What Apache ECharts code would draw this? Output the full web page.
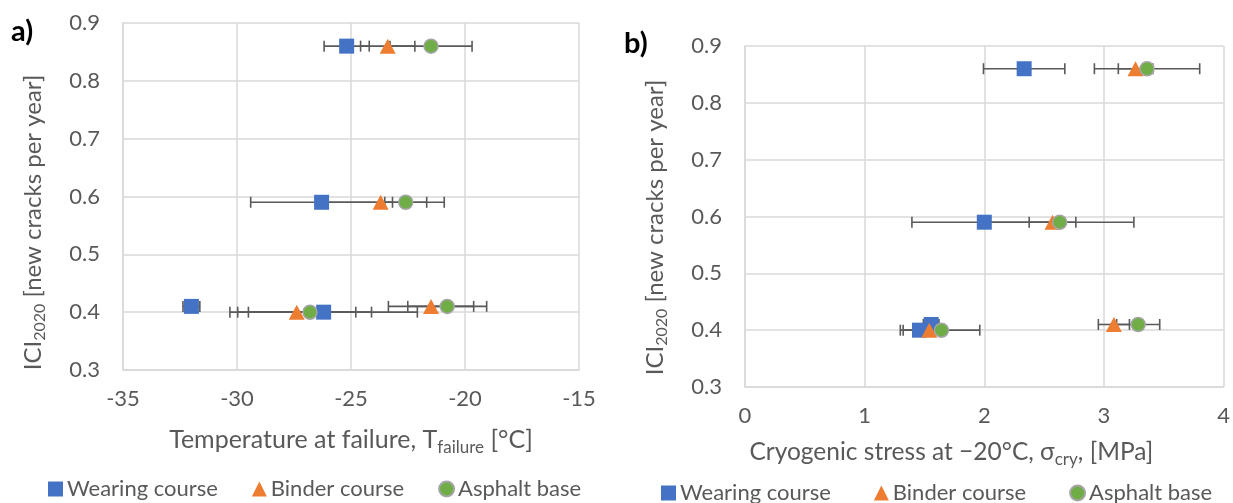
<!DOCTYPE html>
<html><head><meta charset="utf-8">
<script src="https://cdn.jsdelivr.net/npm/echarts@6/dist/echarts.min.js"></script>
<style>html,body{margin:0;padding:0;background:#fff}#c{width:1233px;height:503px}</style>
</head><body><div id="c"></div>
<script>
// ---- data ----
const seriesNames = ['Wearing course', 'Binder course', 'Asphalt base'];
const iciTicks = [0.3, 0.4, 0.5, 0.6, 0.7, 0.8, 0.9];
const tempTicks = [-35, -30, -25, -20, -15];
const stressTicks = [0, 1, 2, 3, 4];

// ICI2020 values of each point (same order for both panels)
const wearingIci = [0.86, 0.59, 0.41, 0.40];
const binderIci  = [0.86, 0.59, 0.41, 0.40];
const baseIci    = [0.86, 0.59, 0.41, 0.40];

// Panel a) temperature at failure [°C] and error (±)
const wearingTemp    = [-25.19, -26.29, -32.00, -26.20];
const wearingTempErr = [0.99, 3.11, 0.37, 4.11];
const binderTemp     = [-23.39, -23.70, -21.49, -27.38];
const binderTempErr  = [1.19, 2.79, 1.87, 2.59];
const baseTemp       = [-21.49, -22.60, -20.78, -26.80];
const baseTempErr    = [1.80, 0.92, 1.73, 2.70];

// Panel b) cryogenic stress at -20°C [MPa] and error (±)
const wearingStress    = [2.333, 2.00, 1.556, 1.458];
const wearingStressErr = [0.34, 0.605, 0.065, 0.16];
const binderStress     = [3.264, 2.57, 3.083, 1.54];
const binderStressErr  = [0.144, 0.195, 0.13, 0.08];
const baseStress       = [3.36, 2.63, 3.286, 1.642];
const baseStressErr    = [0.44, 0.62, 0.18, 0.32];

// ---- styling ----
const FONT = 'Lato';
const TXT = '#595959';
const GRID = '#d9d9d9';
const colors = ['#4472c4', '#ed7d31', '#70ad47'];
const symbols = ['rect', 'triangle', 'circle'];
const sizes = [15, [16, 15], 14];

function pts(xs, ys) { return xs.map((x, i) => [x, ys[i]]); }
function errPts(xs, ys, es) { return xs.map((x, i) => [x, ys[i], es[i]]); }

function errRender(params, api) {
  const x = api.value(0), y = api.value(1), e = api.value(2);
  const p1 = api.coord([x - e, y]), p2 = api.coord([x + e, y]);
  const h = 5.5;
  const style = { stroke: '#595959', lineWidth: 1.6 };
  return { type: 'group', children: [
    { type: 'line', shape: { x1: p1[0], y1: p1[1], x2: p2[0], y2: p2[1] }, style },
    { type: 'line', shape: { x1: p1[0], y1: p1[1] - h, x2: p1[0], y2: p1[1] + h }, style },
    { type: 'line', shape: { x1: p2[0], y1: p2[1] - h, x2: p2[0], y2: p2[1] + h }, style }
  ]};
}

function richStyle(fs, sub, lh, pad) {
  return {
    color: TXT, fontFamily: FONT, fontSize: fs, padding: pad,
    rich: {
      a: { color: TXT, fontFamily: FONT, fontSize: fs, lineHeight: lh },
      s: { color: TXT, fontFamily: FONT, fontSize: sub, lineHeight: lh, verticalAlign: 'bottom' }
    }
  };
}

function xAxis(idx, ticks, name, gap, fs, pad) {
  return {
    type: 'value', gridIndex: idx, min: ticks[0], max: ticks[ticks.length - 1],
    interval: ticks[1] - ticks[0],
    axisLine: { show: true, onZero: false, lineStyle: { color: GRID, width: 1.5 } },
    axisTick: { show: false },
    splitLine: { show: true, lineStyle: { color: GRID, width: 1.5 } },
    axisLabel: { color: TXT, fontFamily: FONT, fontSize: 22, margin: 18 },
    name: name, nameLocation: 'middle', nameGap: gap,
    nameTextStyle: richStyle(fs, 17, 32, pad)
  };
}
function yAxis(idx, pad) {
  return {
    type: 'value', gridIndex: idx, min: iciTicks[0], max: iciTicks[iciTicks.length - 1],
    interval: 0.1,
    axisLine: { show: true, onZero: false, lineStyle: { color: GRID, width: 1.5 } },
    axisTick: { show: false },
    splitLine: { show: true, lineStyle: { color: GRID, width: 1.5 } },
    axisLabel: { color: TXT, fontFamily: FONT, fontSize: 22, margin: 23, formatter: v => v.toFixed(1) },
    name: '{a|ICI}{s|2020}{a| [new cracks per year]}', nameLocation: 'middle', nameGap: 75,
    nameTextStyle: richStyle(24, 16, 30, pad)
  };
}

const panels = [
  { x: [wearingTemp, binderTemp, baseTemp], e: [wearingTempErr, binderTempErr, baseTempErr] },
  { x: [wearingStress, binderStress, baseStress], e: [wearingStressErr, binderStressErr, baseStressErr] }
];
const icis = [wearingIci, binderIci, baseIci];

const series = [];
panels.forEach((p, gi) => {
  for (let k = 0; k < 3; k++) {
    series.push({
      type: 'custom', xAxisIndex: gi, yAxisIndex: gi, z: 1,
      renderItem: errRender, encode: { x: 0, y: 1 },
      data: errPts(p.x[k], icis[k], p.e[k]), silent: true
    });
  }
});
panels.forEach((p, gi) => {
  for (let k = 0; k < 3; k++) {
    series.push({
      type: 'scatter', name: seriesNames[k], xAxisIndex: gi, yAxisIndex: gi, z: 3 + k,
      symbol: symbols[k], symbolSize: sizes[k],
      itemStyle: k === 2 ? { color: colors[k], borderColor: '#a5a5a5', borderWidth: 1.5, opacity: 1 }
                         : { color: colors[k], opacity: 1 },
      data: pts(p.x[k], icis[k])
    });
  }
});

function legend(left, top, fs, gap) {
  return {
    left: left, top: top, itemWidth: 15, itemHeight: 15, itemGap: gap,
    textStyle: { color: TXT, fontFamily: FONT, fontSize: fs, padding: [0, 0, 0, -1] },
    data: seriesNames.map(n => ({ name: n }))
  };
}

const option = {
  animation: false,
  backgroundColor: '#fff',
  grid: [
    { left: 123, top: 23, width: 456, height: 347 },
    { left: 745, top: 46, width: 480, height: 341 }
  ],
  xAxis: [
    xAxis(0, tempTicks, '{a|Temperature at failure, T}{s|failure}{a| [°C]}', 54, 25, [0, 0, 0, 0]),
    xAxis(1, stressTicks, '{a|Cryogenic stress at −20°C, σ}{s|cry}{a|, [MPa]}', 49, 24.5, [0, 66, 0, 0])
  ],
  yAxis: [yAxis(0, [0, 52, 0, 0]), yAxis(1, [0, 22, 0, 0])],
  legend: [legend(43, 473, 22, 34), legend(656, 477, 22, 43)],
  graphic: [
    { type: 'text', left: 11, top: 17, style: { text: 'a)', font: 'bold 29px ' + FONT, fill: '#000' } },
    { type: 'text', left: 624, top: 29, style: { text: 'b)', font: 'bold 29px ' + FONT, fill: '#000' } }
  ],
  series: series
};
echarts.init(document.getElementById('c')).setOption(option);
</script></body></html>
